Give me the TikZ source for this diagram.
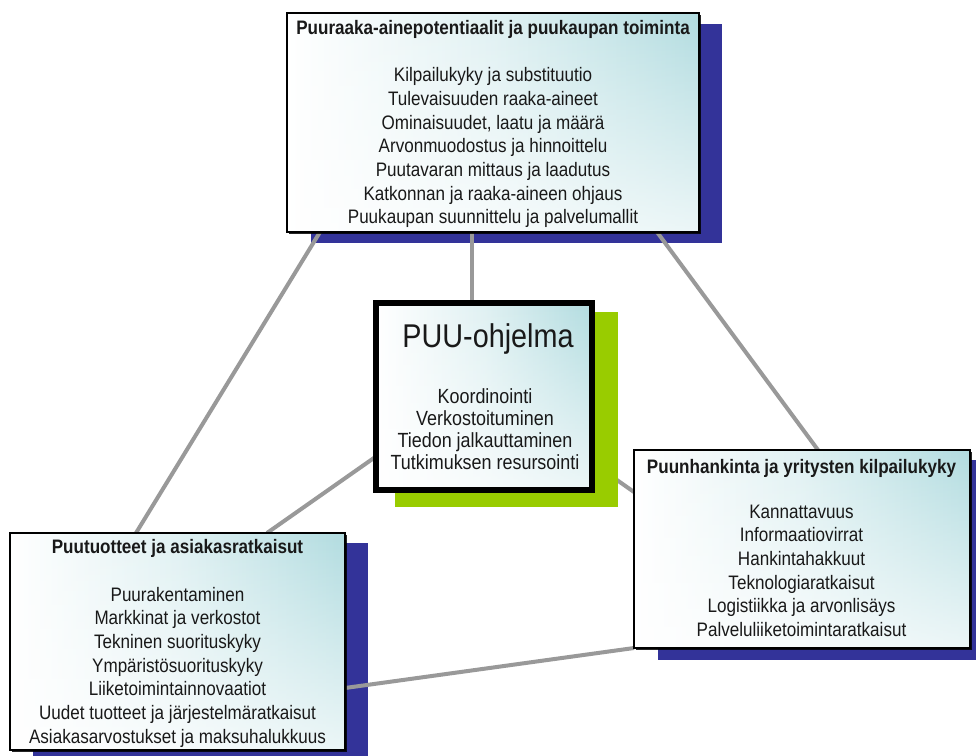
\documentclass[tikz,border=0pt]{standalone}
\usepackage{fontspec}
\setmainfont[FakeStretch=0.875]{Liberation Sans}
\usetikzlibrary{calc,shadows,fadings}
\definecolor{shblue}{HTML}{333399}
\definecolor{shgreen}{HTML}{99CC00}
\definecolor{linegray}{HTML}{999999}
\definecolor{boxteal}{HTML}{B2DCE0}
\begin{document}
\begin{tikzpicture}[x=1pt,y=-1pt,
  grad/.style={left color=white, right color=boxteal, middle color=boxteal!40!white,
    path picture={\fill[white, path fading=north, fill opacity=0.75]
      (path picture bounding box.south west) rectangle (path picture bounding box.north east);}},
  panel/.style={rectangle, draw=black, line width=1.3pt, inner sep=0pt, outer sep=0pt, grad,
    drop shadow={shadow xshift=2pt, shadow yshift=-2pt, fill=black, opacity=0.85}},
  mainpanel/.style={rectangle, draw=black, line width=6pt, inner sep=0pt, outer sep=0pt, grad},
  backblue/.style={fill=shblue, draw=none},
  backgreen/.style={fill=shgreen, draw=none},
  link/.style={draw=linegray, line width=4pt},
  txt/.style={inner sep=0pt, outer sep=0pt, anchor=base, text=black!90,
    font=\fontsize{19.5pt}{23.7pt}\selectfont},
  ctxt/.style={inner sep=0pt, outer sep=0pt, anchor=base, text=black!90,
    font=\fontsize{20.5pt}{22.3pt}\selectfont}
]
\useasboundingbox (0,0) rectangle (976,755);
\clip (0,0) rectangle (976,755);
\fill[white] (0,0) rectangle (976,755);

% blue backing blocks
\fill[backblue] (311,24) rectangle (722,243);
\fill[backblue] (33,543) rectangle (368,760);
\fill[backblue] (658,460) rectangle (990,660);

% box nodes (placed, drawn later in order)
\path (493,122.5) node[minimum width=412pt, minimum height=219pt, inner sep=0pt, outer sep=0pt] (top) {};
\path (177.5,641.5) node[minimum width=335pt, minimum height=217pt, inner sep=0pt, outer sep=0pt] (bl) {};
\path (802,549) node[minimum width=336pt, minimum height=198pt, inner sep=0pt, outer sep=0pt] (rt) {};
\path (484,396.5) node[minimum width=216pt, minimum height=187pt, inner sep=0pt, outer sep=0pt] (ctr) {};

% connectors
\draw[link] ($(top.south west)+(33,0)$) -- ($(bl.north west)+(126,0)$);
\draw[link] ($(top.south)+(-21,0)$) -- ($(ctr.north)+(-12,0)$);
\draw[link] ($(top.south east)+(-42,0)$) -- ($(rt.north west)+(184,0)$);
\draw[link] ($(ctr.west)+(0,60)$) -- ($(bl.north west)+(257,0)$);
\draw[link] ($(ctr.east)+(0,66)$) -- ($(rt.west)+(0,-57)$);
\draw[link] ($(bl.south east)+(0,-62)$) -- (rt.south west);

% green backing block
\fill[backgreen] (395,312) rectangle (618,507);

% panels
\node[panel, minimum width=412pt, minimum height=219pt] at (top) {};
\node[panel, minimum width=335pt, minimum height=217pt] at (bl) {};
\node[panel, minimum width=336pt, minimum height=198pt] at (rt) {};
\node[mainpanel, minimum width=216pt, minimum height=187pt] at (ctr) {};

% texts: top
\node[txt] (toptitle) at (493,34) {\bfseries Puuraaka-ainepotentiaalit ja puukaupan toiminta};
\node[txt] (topitems) at (493,81.7) {\begin{tabular}[t]{@{}c@{}}Kilpailukyky ja substituutio\\Tulevaisuuden raaka-aineet\\Ominaisuudet, laatu ja määrä\\Arvonmuodostus ja hinnoittelu\\Puutavaran mittaus ja laadutus\\Katkonnan ja raaka-aineen ohjaus\\Puukaupan suunnittelu ja palvelumallit\end{tabular}};

% center
\node[inner sep=0pt, anchor=base, text=black!90, font=\fontsize{32.9pt}{36pt}\selectfont] (ctrtitle) at (488,347) {PUU-ohjelma};
\node[ctxt] (ctritems) at (485,403) {\begin{tabular}[t]{@{}c@{}}Koordinointi\\Verkostoituminen\\Tiedon jalkauttaminen\\Tutkimuksen resursointi\end{tabular}};

% bottom left
\node[txt] (bltitle) at (177.5,553) {\bfseries Puutuotteet ja asiakasratkaisut};
\node[txt] (blitems) at (177.5,601) {\begin{tabular}[t]{@{}c@{}}Puurakentaminen\\Markkinat ja verkostot\\Tekninen suorituskyky\\Ympäristösuorituskyky\\Liiketoimintainnovaatiot\\Uudet tuotteet ja järjestelmäratkaisut\\Asiakasarvostukset ja maksuhalukkuus\end{tabular}};

% right
\node[txt] (rttitle) at (801.5,473) {\bfseries Puunhankinta ja yritysten kilpailukyky};
\node[txt] (rtitems) at (801.5,518) {\begin{tabular}[t]{@{}c@{}}Kannattavuus\\Informaatiovirrat\\Hankintahakkuut\\Teknologiaratkaisut\\Logistiikka ja arvonlisäys\\Palveluliiketoimintaratkaisut\end{tabular}};
\end{tikzpicture}
\end{document}
